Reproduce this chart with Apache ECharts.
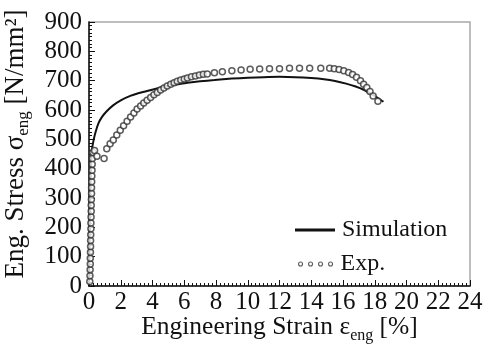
<!DOCTYPE html>
<html>
<head>
<meta charset="utf-8">
<script src="https://cdn.jsdelivr.net/npm/echarts@6/dist/echarts.min.js"></script>
<style>
  html, body { margin: 0; padding: 0; background: #fff; }
  #chart { width: 488px; height: 344px; }
</style>
</head>
<body>
<div id="chart"></div>
<script>
// Engineering stress-strain: simulated curve vs. tensile test measurements
const simStrain = [0, 0.06, 0.1, 0.14, 0.2, 0.3, 0.42, 0.6, 0.8, 1.1, 1.5, 2.0, 2.6, 3.1, 3.6, 4.1, 4.9, 5.6, 6.2, 7.0, 7.9, 9.0, 10.0, 11.0, 12.0, 13.0, 14.0, 14.8, 15.5, 16.2, 16.8, 17.3, 17.8, 18.2, 18.55];
const simStress = [0, 200, 350, 430, 470, 500, 526, 555, 575, 595, 615, 633, 648, 657, 664, 671, 682, 688, 693, 698, 702, 707, 710, 712, 713, 712, 709, 705, 699, 690, 680, 669, 654, 641, 628];

const expStrain = [0.05, 0.06, 0.07, 0.08, 0.08, 0.09, 0.1, 0.1, 0.11, 0.12, 0.12, 0.13, 0.14, 0.14, 0.15, 0.16, 0.16, 0.17, 0.18, 0.19, 0.2, 0.21, 0.24, 0.35, 0.5, 0.95, 1.12, 1.33, 1.53, 1.75, 1.97, 2.18, 2.4, 2.62, 2.83, 3.03, 3.25, 3.45, 3.66, 3.88, 4.09, 4.3, 4.51, 4.72, 4.93, 5.15, 5.36, 5.56, 5.78, 6.0, 6.2, 6.45, 6.7, 6.95, 7.2, 7.45, 7.9, 8.4, 9.0, 9.58, 10.15, 10.75, 11.37, 12.0, 12.63, 13.26, 13.9, 14.6, 15.16, 15.45, 15.75, 16.05, 16.35, 16.6, 16.85, 17.1, 17.3, 17.5, 17.7, 17.9, 18.2];
const expStress = [15, 35, 55, 75, 95, 115, 135, 155, 175, 195, 215, 235, 255, 275, 295, 315, 335, 355, 375, 395, 415, 435, 455, 462, 442, 435, 468, 485, 498, 515, 531, 546, 562, 576, 590, 603, 614, 624, 633, 643, 652, 660, 668, 675, 682, 688, 693, 698, 702, 706, 709, 713, 716, 719, 722, 723, 727, 730, 734, 736, 739, 740, 741, 741, 742, 742, 742, 742, 742, 741, 738, 734, 728, 721, 712, 700, 688, 677, 663, 648, 630];

const xTicks = { min: 0, max: 24, step: 2 };
const yTicks = { min: 0, max: 900, step: 100 };

const serif = 'Liberation Serif';
const ink = '#111';

const simData = simStrain.map((x, i) => [x, simStress[i]]);
const expData = expStrain.map((x, i) => [x, expStress[i]]);

// four small rings as the legend icon for the measured points
const dotsIcon = 'path://M0,2a2,2 0 1,0 4,0a2,2 0 1,0 -4,0z' +
  'M10,2a2,2 0 1,0 4,0a2,2 0 1,0 -4,0z' +
  'M20,2a2,2 0 1,0 4,0a2,2 0 1,0 -4,0z' +
  'M30,2a2,2 0 1,0 4,0a2,2 0 1,0 -4,0z';

const chart = echarts.init(document.getElementById('chart'), null, { renderer: 'canvas' });

const axisText = { fontFamily: serif, fontSize: 25, color: ink };

function titleRich(size) {
  return {
    a: { fontFamily: serif, fontSize: size, color: ink, lineHeight: size + 6 },
    s: { fontFamily: serif, fontSize: Math.round(size * 0.64), color: ink, lineHeight: Math.round(size * 0.58), verticalAlign: 'bottom' }
  };
}

chart.setOption({
  animation: false,
  backgroundColor: '#fff',
  grid: {
    left: 89, right: 18, top: 22, bottom: 58,
    outerBoundsMode: 'none',
    containLabel: false,
    show: true, borderColor: '#a8a8a8', borderWidth: 1.5, backgroundColor: 'transparent'
  },
  legend: [
    {
      left: 290, top: 213, orient: 'vertical',
      itemWidth: 40, itemHeight: 3, icon: 'rect',
      data: [{ name: 'Simulation', itemStyle: { color: ink } }],
      textStyle: { fontFamily: serif, fontSize: 24, color: ink, padding: [0, 0, 0, 2] },
      selectedMode: false
    },
    {
      left: 293, top: 247, orient: 'vertical',
      itemWidth: 34, itemHeight: 4, icon: dotsIcon,
      data: [{ name: 'Exp.', itemStyle: { color: '#fff', borderColor: '#333', borderWidth: 1.1 } }],
      textStyle: { fontFamily: serif, fontSize: 24, color: ink, padding: [0, 0, 0, 3] },
      selectedMode: false
    }
  ],
  xAxis: {
    type: 'value',
    min: xTicks.min, max: xTicks.max, interval: xTicks.step,
    name: '{a|Engineering Strain ε}{s|eng}{a| [%]}',
    nameLocation: 'middle', nameGap: 26,
    nameMoveOverlap: false,
    nameTextStyle: { rich: titleRich(25.5) },
    axisLine: { show: true, onZero: false, lineStyle: { color: ink, width: 1.5 } },
    axisTick: { show: true, inside: true, length: 6, lineStyle: { color: ink, width: 1 } },
    minorTick: { show: true, splitNumber: 8, length: 3, lineStyle: { color: ink, width: 1 } },
    splitLine: { show: false },
    axisLabel: Object.assign({ margin: 4 }, axisText)
  },
  yAxis: {
    type: 'value',
    min: yTicks.min, max: yTicks.max, interval: yTicks.step,
    name: '{a|Eng. Stress σ}{s|eng}{a| [N/mm²]}',
    nameLocation: 'middle', nameGap: 57, nameRotate: 90,
    nameTextStyle: {
      padding: [0, 0, 0, 20],
      rich: titleRich(27)
    },
    axisLine: { show: true, onZero: false, lineStyle: { color: ink, width: 1.5 } },
    axisTick: { show: true, inside: true, length: 6, lineStyle: { color: ink, width: 1 } },
    minorTick: { show: true, splitNumber: 8, length: 3, lineStyle: { color: ink, width: 1 } },
    splitLine: { show: false },
    axisLabel: Object.assign({ margin: 7 }, axisText)
  },
  series: [
    {
      name: 'Simulation',
      type: 'line',
      data: simData,
      showSymbol: false,
      symbol: 'none',
      smooth: 0.2,
      lineStyle: { color: ink, width: 2 },
      z: 3
    },
    {
      name: 'Exp.',
      type: 'scatter',
      data: expData,
      symbol: 'circle',
      symbolSize: 6,
      itemStyle: { color: '#fff', borderColor: '#333', borderWidth: 1.5 },
      z: 4
    }
  ]
});
</script>
</body>
</html>
